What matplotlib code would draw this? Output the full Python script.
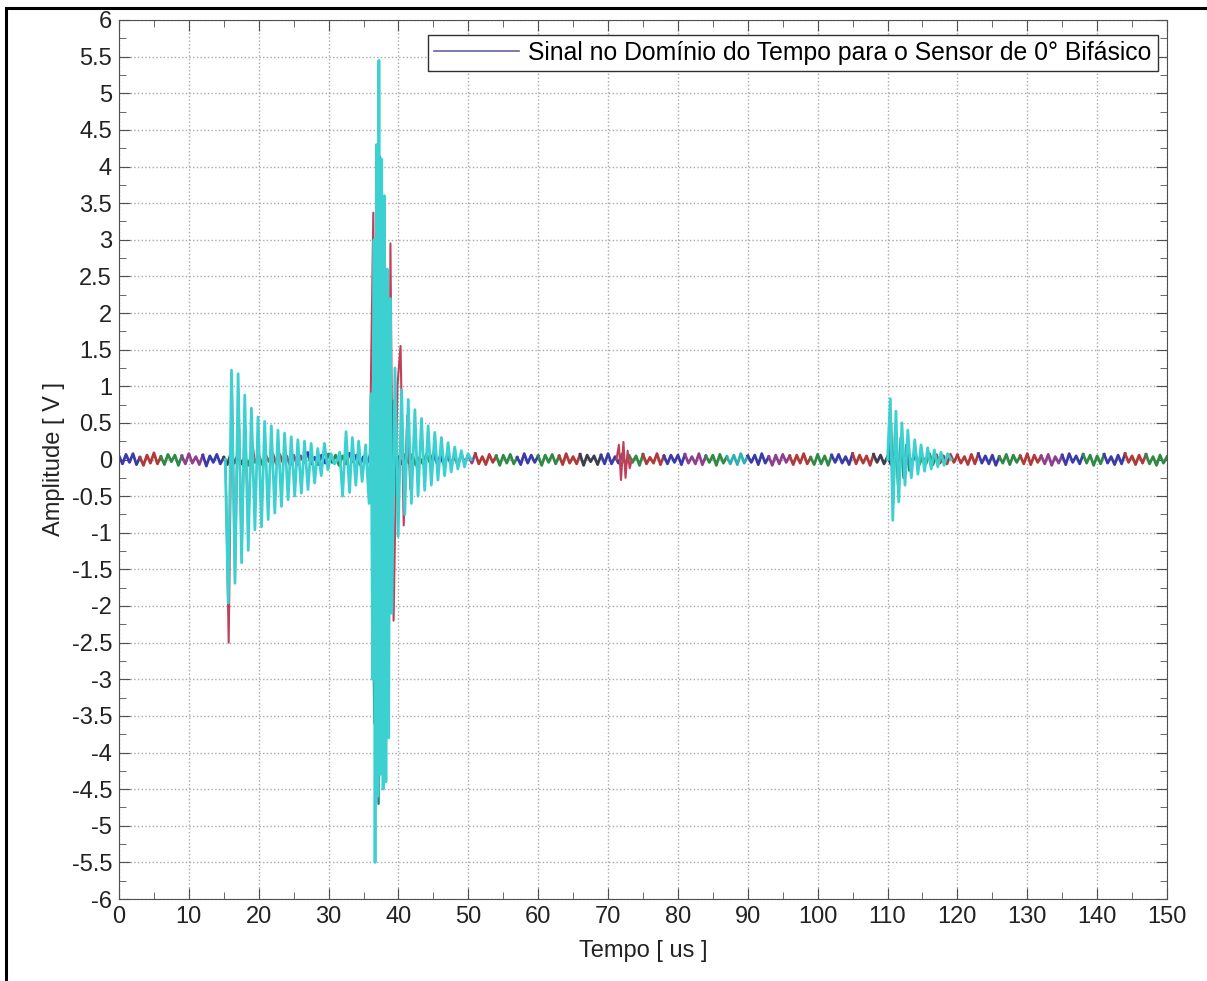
import matplotlib
matplotlib.use("Agg")
import matplotlib.pyplot as plt
import numpy as np
from matplotlib.patches import Rectangle
from matplotlib.ticker import MultipleLocator

plt.rcParams["font.family"] = ["Liberation Sans", "DejaVu Sans"]
plt.rcParams["font.size"] = 17

# baseline noise [V], one sample every 0.5 us from 0 to 150 us
noise = [
    0.05, -0.06, 0.07, -0.04, 0.08, -0.07, 0.03, -0.08, 0.06, -0.05, 0.09, -0.06, 0.04, -0.07, 0.07, -0.03, 0.06, -0.08, 0.05, -0.06,
    0.08, -0.05, 0.04, -0.07, 0.06, -0.09, 0.05, -0.04, 0.07, -0.06, 0.03, -0.07, 0.08, -0.05, 0.06, -0.06, 0.04, -0.08, 0.07, -0.04,
    0.06, -0.07, 0.05, -0.03, 0.08, -0.06, 0.07, -0.05, 0.04, -0.08, 0.06, -0.07, 0.05, -0.04, 0.09, -0.06, 0.03, -0.07, 0.06, -0.05,
    0.07, -0.04, 0.06, -0.08, 0.05, -0.06, 0.08, -0.03, 0.06, -0.07, 0.04, -0.05, 0.07, -0.08, 0.05, -0.06, 0.06, -0.04, 0.08, -0.07,
    0.04, -0.06, 0.07, -0.05, 0.06, -0.08, 0.03, -0.06, 0.07, -0.04, 0.08, -0.05, 0.05, -0.07, 0.06, -0.06, 0.04, -0.08, 0.07, -0.05,
    0.06, -0.05, 0.08, -0.06, 0.04, -0.07, 0.07, -0.04, 0.05, -0.08, 0.06, -0.05, 0.07, -0.06, 0.03, -0.07, 0.08, -0.05, 0.06, -0.04,
    0.05, -0.08, 0.06, -0.04, 0.07, -0.06, 0.05, -0.07, 0.08, -0.05, 0.04, -0.06, 0.07, -0.08, 0.06, -0.03, 0.05, -0.07, 0.06, -0.06,
    0.08, -0.06, 0.04, -0.05, 0.07, -0.07, 0.06, -0.04, 0.05, -0.08, 0.07, -0.06, 0.03, -0.05, 0.08, -0.07, 0.05, -0.06, 0.06, -0.04,
    0.06, -0.07, 0.07, -0.05, 0.04, -0.06, 0.08, -0.07, 0.05, -0.04, 0.06, -0.08, 0.07, -0.05, 0.04, -0.06, 0.06, -0.07, 0.08, -0.05,
    0.05, -0.04, 0.06, -0.07, 0.08, -0.05, 0.04, -0.08, 0.06, -0.06, 0.07, -0.04, 0.05, -0.07, 0.06, -0.05, 0.08, -0.06, 0.03, -0.07,
    0.07, -0.06, 0.05, -0.08, 0.06, -0.04, 0.07, -0.05, 0.04, -0.07, 0.08, -0.06, 0.06, -0.05, 0.05, -0.08, 0.07, -0.04, 0.06, -0.06,
    0.04, -0.07, 0.08, -0.05, 0.06, -0.06, 0.05, -0.04, 0.07, -0.08, 0.04, -0.06, 0.08, -0.07, 0.06, -0.05, 0.05, -0.06, 0.07, -0.04,
    0.06, -0.05, 0.04, -0.07, 0.07, -0.06, 0.08, -0.05, 0.05, -0.06, 0.06, -0.08, 0.04, -0.05, 0.07, -0.07, 0.06, -0.04, 0.05, -0.06,
    0.08, -0.07, 0.06, -0.04, 0.05, -0.06, 0.07, -0.08, 0.04, -0.05, 0.06, -0.07, 0.08, -0.04, 0.05, -0.06, 0.07, -0.05, 0.06, -0.08,
    0.05, -0.06, 0.07, -0.05, 0.04, -0.07, 0.06, -0.06, 0.08, -0.04, 0.05, -0.07, 0.06, -0.05, 0.07, -0.06, 0.04, -0.08, 0.06, -0.05,
    0.04]
noise_dt = 0.5
# which trace colour shows on top in each 3 us piece of the baseline
chunk_codes = "brgmbkgrmb" "gbrkgbmrgb" "grkbgrbmgc" "bmrgbrkbgr" "rbgrmbgbrg"
chunk_len = 3.0

# burst extremes of the cyan trace: time [us], amplitude [V]
b1_t = [15.2, 15.65, 16.1, 16.6, 17.05, 17.55, 18.0, 18.5, 18.95, 19.45, 19.9, 20.4,
        20.85, 21.35, 21.8, 22.3, 22.75, 23.25, 23.7, 24.2, 24.65, 25.15, 25.6, 26.1,
        26.55, 27.05, 27.5, 28.0, 28.45, 28.95, 29.4, 29.9, 30.35, 30.85, 31.3]
b1_v = [0.0, -1.96, 1.22, -1.69, 1.17, -1.41, 0.88, -1.24, 0.70, -0.96, 0.58, -0.92,
        0.52, -0.82, 0.46, -0.73, 0.40, -0.64, 0.36, -0.55, 0.31, -0.50, 0.27, -0.46,
        0.25, -0.41, 0.22, -0.32, 0.15, -0.22, 0.22, -0.14, 0.08, -0.06, 0.0]

b2_t = [31.3, 31.6, 32.0, 32.5, 33.0, 33.4, 33.9, 34.3, 34.8, 35.3, 35.8, 36.1,
        36.3, 36.5, 36.65, 36.85, 37.05, 37.2, 37.4, 37.6, 37.8, 38.0, 38.2, 38.4,
        38.6, 38.8, 39.05, 39.5, 39.95, 40.45, 40.9, 41.4, 41.85, 42.35, 42.8, 43.3,
        43.75, 44.25, 44.7, 45.2, 45.65, 46.15, 46.6, 47.1, 47.55, 48.05, 48.5, 49.0,
        49.45, 49.95, 50.4]
b2_v = [0.0, 0.1, -0.50, 0.38, -0.45, 0.30, -0.35, 0.25, -0.30, 0.20, -0.60, 0.90,
        -3.0, 3.0, -5.5, 4.3, -4.6, 5.45, -4.3, 4.1, -4.5, 3.6, -4.4, 2.6,
        -3.8, 2.2, -2.1, 1.25, -1.05, 0.95, -0.75, 0.82, -0.60, 0.68, -0.50, 0.56,
        -0.42, 0.46, -0.35, 0.37, -0.28, 0.30, -0.22, 0.23, -0.17, 0.17, -0.13, 0.12,
        -0.10, 0.08, 0.0]

b4_t = [110.0, 110.4, 110.75, 111.2, 111.6, 112.05, 112.5, 112.9, 113.4, 113.9, 114.35,
        114.8, 115.3, 115.75, 116.25, 116.7, 117.2, 117.65, 118.1, 118.6, 119.1]
b4_v = [0.0, 0.83, -0.83, 0.66, -0.58, 0.50, -0.35, 0.40, -0.25, 0.27, -0.20,
        0.20, -0.16, 0.16, -0.13, 0.13, -0.10, 0.10, -0.08, 0.08, 0.0]

# red trace extremes
red_t = [15.25, 15.7, 16.15, 16.6, 17.1, 17.55, 18.0, 18.5, 19.0, 19.4,
         35.9, 36.4, 36.8, 37.3, 37.8, 38.3, 38.6, 38.85, 39.3, 39.85, 40.3, 40.75,
         41.25, 41.7, 42.1,
         71.2, 71.55, 71.85, 72.2, 72.5, 72.8, 73.1, 73.4]
red_v = [0.0, -2.5, 1.1, -1.6, 0.9, -1.3, 0.6, -0.9, 0.3, 0.0,
         0.0, 3.37, -3.0, 2.5, -2.8, 2.0, -2.8, 2.95, -2.2, 1.0, 1.55, -0.9,
         0.6, -0.4, 0.0,
         0.0, 0.20, -0.28, 0.24, -0.25, 0.12, -0.12, 0.0]
red_gaps = [10, 25]

# dark teal trace extremes
teal_t = [36.2, 36.55, 36.95, 37.15, 37.35, 37.6, 37.9, 38.2, 38.5, 38.9, 39.3, 39.7, 40.0,
          110.2, 110.5, 110.8, 111.1, 111.5, 111.9, 112.3, 112.7, 113.1, 113.5]
teal_v = [0.0, -3.6, 3.0, -4.7, 4.13, -3.0, 3.2, -3.5, 1.8, -1.5, 0.8, -0.5, 0.0,
          0.0, 0.5, -0.6, 0.45, -0.35, 0.3, -0.25, 0.2, -0.15, 0.0]
teal_gaps = [13]

colors = {"b": "#3a3aa8", "g": "#2f8a45", "r": "#b03a3a", "m": "#8e3f8e",
          "k": "#3d3d50", "c": "#2fb0b0"}
cyan = "#3cd0d0"
label = "Sinal no Domínio do Tempo para o Sensor de 0° Bifásico"

fig = plt.figure(figsize=(12.07, 9.81), dpi=100)
ax = fig.add_axes([119 / 1207, 1 - 899 / 981, 1048 / 1207, 879 / 981])

t_noise = np.arange(len(noise)) * noise_dt
noise = np.array(noise)
for i, code in enumerate(chunk_codes):
    sel = (t_noise >= i * chunk_len) & (t_noise <= (i + 1) * chunk_len)
    ax.plot(t_noise[sel], noise[sel], color=colors[code], lw=2.0,
            label=label if i == 0 else None)


def split_plot(t, v, gaps, color, lw):
    edges = [0] + gaps + [len(t)]
    for a, b in zip(edges[:-1], edges[1:]):
        ax.plot(t[a:b], v[a:b], color=color, lw=lw)


split_plot(red_t, red_v, red_gaps, "#c0405a", 1.5)
split_plot(teal_t, teal_v, teal_gaps, "#2a7f86", 1.8)
for bt, bv in [(b1_t, b1_v), (b2_t, b2_v), (b4_t, b4_v)]:
    ax.plot(bt, bv, color=cyan, lw=2.0)

ax.set_xlim(0, 150)
ax.set_ylim(-6, 6)
ax.xaxis.set_major_locator(MultipleLocator(10))
ax.xaxis.set_minor_locator(MultipleLocator(5))
ax.yaxis.set_major_locator(MultipleLocator(0.5))
ax.yaxis.set_minor_locator(MultipleLocator(0.25))
ax.yaxis.set_major_formatter(matplotlib.ticker.FormatStrFormatter("%g"))
ax.tick_params(which="both", direction="in", top=True, right=True,
               colors="#505050", labelcolor="#222222")
ax.tick_params(which="major", length=8, labelsize=17, pad=5)
ax.tick_params(which="minor", length=5)
ax.grid(True, which="major", linestyle=":", color="#a8a8a8", lw=1.0)
for sp in ax.spines.values():
    sp.set_color("#505050")

ax.set_xlabel("Tempo [ us ]", fontsize=17, labelpad=9, color="#222222")
ax.set_ylabel("Amplitude [ V ]", fontsize=17, labelpad=5, color="#222222")

leg = ax.legend(loc="upper right", bbox_to_anchor=(0.9914, 0.983),
                borderaxespad=0, fontsize=17.8, fancybox=False, framealpha=1,
                handlelength=3.4, borderpad=0.25, handletextpad=0.4)
leg.get_frame().set_edgecolor("#303030")
leg.get_frame().set_linewidth(1.0)
for ln in leg.get_lines():
    ln.set_color("#6464a8")
    ln.set_linewidth(1.2)

fig.patches.append(Rectangle((6 / 1207, -0.1), 1.2, 1.1 - 8 / 981,
                             transform=fig.transFigure, fill=False,
                             edgecolor="black", lw=2.2))

fig.savefig("out.png", dpi=100)
